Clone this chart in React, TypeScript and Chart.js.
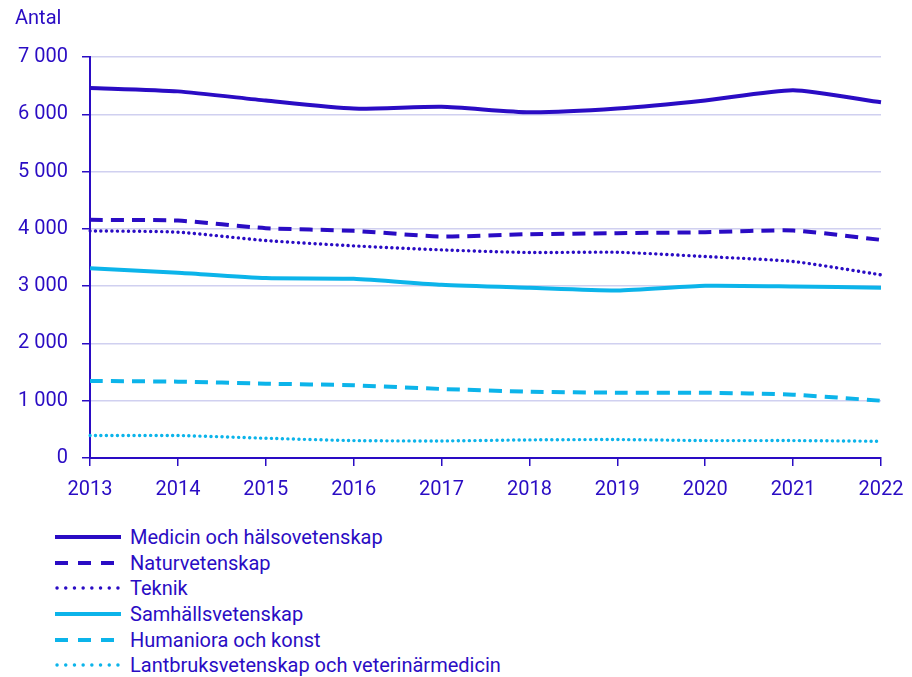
import React, { useEffect, useRef } from "react";
import { Chart, registerables } from "chart.js";

Chart.register(...registerables);

const years = ["2013", "2014", "2015", "2016", "2017", "2018", "2019", "2020", "2021", "2022"];
const medicin = [6460, 6400, 6240, 6100, 6130, 6035, 6100, 6240, 6420, 6210];
const naturvetenskap = [4157, 4145, 4012, 3965, 3866, 3907, 3924, 3942, 3971, 3808];
const teknik = [3965, 3942, 3796, 3703, 3633, 3587, 3592, 3517, 3430, 3197];
const samhalls = [3314, 3233, 3140, 3128, 3023, 2971, 2924, 3006, 2994, 2971];
const humaniora = [1345, 1333, 1298, 1269, 1205, 1158, 1140, 1140, 1105, 1000];
const lantbruk = [392, 392, 345, 304, 298, 316, 322, 304, 304, 292];

const DARK = "#2a0cc4";
const LIGHT = "#0cb4ea";
const FONT = "Roboto, 'Noto Sans', sans-serif";
const FS = 20;

type Style = "solid" | "dash" | "dot";
const seriesDefs: { label: string; data: number[]; color: string; style: Style }[] = [
  { label: "Medicin och hälsovetenskap", data: medicin, color: DARK, style: "solid" },
  { label: "Naturvetenskap", data: naturvetenskap, color: DARK, style: "dash" },
  { label: "Teknik", data: teknik, color: DARK, style: "dot" },
  { label: "Samhällsvetenskap", data: samhalls, color: LIGHT, style: "solid" },
  { label: "Humaniora och konst", data: humaniora, color: LIGHT, style: "dash" },
  { label: "Lantbruksvetenskap och veterinärmedicin", data: lantbruk, color: LIGHT, style: "dot" },
];

function styleProps(s: Style) {
  if (s === "solid") return { borderWidth: 4, borderDash: [] as number[], borderCapStyle: "butt" as const };
  if (s === "dash") return { borderWidth: 4, borderDash: [13, 8], borderCapStyle: "butt" as const };
  return { borderWidth: 3.4, borderDash: [0.1, 5.4], borderCapStyle: "round" as const };
}

const fmt = (v: number) => String(v).replace(/\B(?=(\d{3})+(?!\d))/g, " ");

const antalPlugin = {
  id: "antal",
  afterDraw(chart: any) {
    const ctx = chart.ctx;
    ctx.save();
    ctx.font = `${FS}px ${FONT}`;
    ctx.fillStyle = DARK;
    ctx.textBaseline = "middle";
    ctx.textAlign = "left";
    ctx.fillText("Antal", 7, 11);
    ctx.restore();
  },
};

function LegendSample({ color, style }: { color: string; style: Style }) {
  const p = styleProps(style);
  const dash = style === "solid" ? undefined : style === "dash" ? "13 10" : "0.1 8.6";
  return (
    <svg width={66} height={10} style={{ display: "block" }}>
      <line
        x1={style === "dot" ? 2 : 0}
        y1={5}
        x2={style === "dot" ? 64 : 66}
        y2={5}
        stroke={color}
        strokeWidth={p.borderWidth}
        strokeDasharray={dash}
        strokeLinecap={style === "dot" ? "round" : "butt"}
      />
    </svg>
  );
}

export default function App() {
  const ref = useRef<HTMLCanvasElement | null>(null);

  useEffect(() => {
    if (!ref.current) return;
    const chart = new Chart(ref.current, {
      type: "line",
      data: {
        labels: years,
        datasets: seriesDefs.map((s) => ({
          label: s.label,
          data: s.data,
          borderColor: s.color,
          backgroundColor: s.color,
          pointRadius: 0,
          fill: false,
          tension: 0.2,
          ...styleProps(s.style),
        })),
      },
      options: {
        responsive: false,
        animation: false,
        layout: { padding: { top: 49, right: 23, left: 0, bottom: 0 } },
        plugins: {
          legend: { display: false },
          tooltip: { enabled: false },
        },
        scales: {
          x: {
            offset: false,
            afterFit: (scale: any) => {
              scale.height = 50;
              scale.paddingLeft = 0;
              scale.paddingRight = 0;
            },
            grid: {
              display: true,
              drawOnChartArea: false,
              drawTicks: true,
              tickLength: 8,
              color: DARK,
              lineWidth: 1.5,
            },
            border: { display: true, color: DARK, width: 2 },
            ticks: {
              color: DARK,
              font: { family: FONT, size: FS },
              padding: 12,
              maxRotation: 0,
              autoSkip: false,
            },
          },
          y: {
            min: 0,
            max: 7000,
            afterFit: (scale: any) => {
              scale.width = 82;
            },
            grid: {
              color: "#d0d0f0",
              lineWidth: 1.5,
              drawTicks: true,
              tickLength: 8,
              tickColor: DARK,
            },
            border: { display: true, color: DARK, width: 2 },
            ticks: {
              stepSize: 1000,
              color: DARK,
              font: { family: FONT, size: FS },
              padding: 14,
              callback: (v: any) => fmt(Number(v)),
            },
          },
        },
      },
      plugins: [antalPlugin],
    });
    return () => chart.destroy();
  }, []);

  return (
    <div style={{ width: 896, fontFamily: FONT }}>
      <canvas ref={ref} width={896} height={500} style={{ display: "block", width: 896, height: 500 }} />
      <div style={{ marginTop: 16, paddingLeft: 47 }}>
        {seriesDefs.map((s) => (
          <div
            key={s.label}
            style={{ display: "flex", alignItems: "center", height: 25.7, color: DARK, fontSize: FS }}
          >
            <LegendSample color={s.color} style={s.style} />
            <span style={{ marginLeft: 9 }}>{s.label}</span>
          </div>
        ))}
      </div>
    </div>
  );
}
